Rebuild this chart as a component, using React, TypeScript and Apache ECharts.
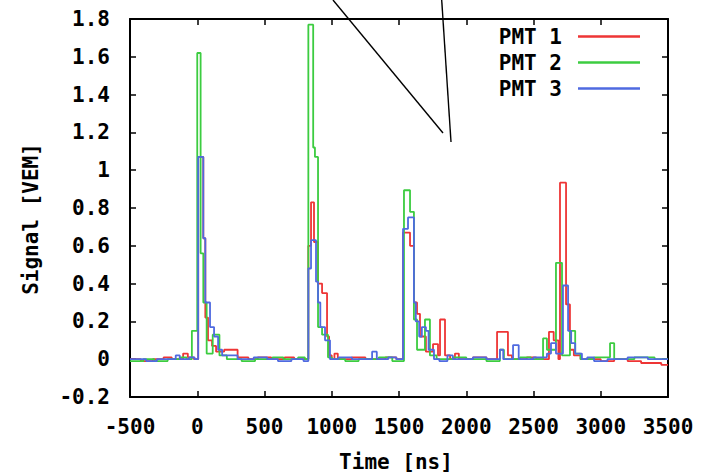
import React, { useEffect, useRef } from "react";
import * as echarts from "echarts";

// Step traces: [time in ns, signal in VEM] at each level change
const pmt1: [number, number][] = [
  [-500, 0.0], [-420, -0.01], [-330, 0.0], [-250, 0.01], [-190, 0.0], [-105, 0.03], [-70, 0.01],
  [-25, 0.0], [7, 1.07], [45, 0.64], [60, 0.22], [80, 0.1], [110, 0.07], [140, 0.04], [200, 0.05],
  [300, 0.01], [380, 0.0], [450, 0.01], [550, 0.0], [650, 0.01], [720, 0.0], [826, 0.6],
  [846, 0.83], [868, 0.62], [898, 0.4], [928, 0.35], [965, 0.12], [980, 0.02], [1000, 0.0],
  [1020, 0.03], [1045, 0.0], [1150, 0.01], [1250, 0.0], [1400, 0.01], [1480, 0.0],
  [1530, 0.67], [1582, 0.6], [1611, 0.3], [1634, 0.24], [1656, 0.12], [1700, 0.04],
  [1753, 0.08], [1790, 0.02], [1805, 0.21], [1842, 0.02], [1880, 0.0], [1916, 0.03],
  [1945, 0.0], [2050, 0.01], [2150, 0.0], [2229, 0.145], [2310, 0.02], [2340, 0.0],
  [2450, 0.01], [2520, 0.0], [2615, 0.145], [2650, 0.1], [2685, 0.0], [2697, 0.934],
  [2742, 0.29], [2771, 0.05], [2800, 0.02], [2850, 0.0], [3000, -0.01], [3100, 0.0],
  [3200, -0.01], [3300, -0.02], [3450, -0.03], [3500, -0.03],
];

const pmt2: [number, number][] = [
  [-500, -0.01], [-400, 0.0], [-320, -0.01], [-220, 0.0], [-130, 0.01], [-80, 0.0],
  [-40, 0.15], [0, 1.62], [25, 0.56], [45, 0.3], [70, 0.03], [115, 0.13], [165, 0.02],
  [220, 0.0], [330, -0.01], [430, 0.0], [560, 0.01], [640, 0.0], [750, 0.01], [800, 0.0],
  [826, 1.77], [862, 1.12], [875, 1.07], [898, 0.17], [928, 0.13], [972, 0.01], [1000, 0.0],
  [1100, -0.01], [1200, 0.0], [1350, 0.01], [1450, -0.01], [1537, 0.894], [1582, 0.78],
  [1611, 0.21], [1634, 0.05], [1693, 0.21], [1730, 0.02], [1780, 0.0], [1900, 0.01],
  [2000, 0.0], [2150, -0.01], [2250, 0.05], [2280, 0.0], [2400, 0.01], [2480, 0.0],
  [2571, 0.11], [2600, 0.05], [2667, 0.51], [2712, 0.02], [2771, 0.15], [2810, 0.03],
  [2850, 0.0], [2950, 0.01], [3069, 0.085], [3100, 0.0], [3250, 0.01], [3400, 0.0],
  [3500, 0.0],
];

const pmt3: [number, number][] = [
  [-500, 0.0], [-380, -0.01], [-300, 0.0], [-160, 0.02], [-130, 0.0], [-60, 0.01],
  [-20, 0.0], [7, 1.07], [45, 0.64], [60, 0.3], [95, 0.17], [125, 0.12], [155, 0.05],
  [185, 0.02], [300, 0.0], [420, 0.01], [520, 0.0], [600, -0.01], [700, 0.0], [790, -0.01],
  [826, 0.48], [846, 0.63], [883, 0.41], [898, 0.3], [915, 0.17], [950, 0.1], [987, 0.0],
  [1050, 0.01], [1150, 0.0], [1300, 0.04], [1335, 0.0], [1420, 0.01], [1480, 0.0],
  [1530, 0.69], [1567, 0.75], [1611, 0.3], [1625, 0.2], [1650, 0.12], [1670, 0.17],
  [1700, 0.15], [1720, 0.05], [1760, 0.0], [1800, -0.01], [1860, 0.02], [1900, 0.0],
  [2050, 0.01], [2150, 0.0], [2250, 0.05], [2275, 0.0], [2348, 0.075], [2390, 0.0],
  [2500, 0.01], [2600, 0.03], [2630, 0.085], [2667, 0.03], [2719, 0.39], [2757, 0.15],
  [2780, 0.085], [2810, 0.03], [2860, 0.0], [2900, 0.01], [2950, -0.01], [3050, 0.0],
  [3200, 0.01], [3350, 0.0], [3500, 0.0],
];

const seriesNames = ["PMT 1", "PMT 2", "PMT 3"];
const seriesColors = ["#ee3535", "#3ccc40", "#4f6ae0"];

const FONT = "DejaVu Sans Mono";
const FONT_SIZE = 21;

export default function App() {
  const ref = useRef<HTMLDivElement>(null);

  useEffect(() => {
    if (!ref.current) return;
    const chart = echarts.init(ref.current, null, { renderer: "svg" });
    const tick = { show: true, inside: true, length: 6, lineStyle: { color: "#000", width: 1.5 } };
    const axisLine = { show: true, onZero: false, lineStyle: { color: "#000", width: 2 } };
    const label = { fontFamily: FONT, fontWeight: "bold" as const, fontSize: FONT_SIZE, color: "#000" };

    chart.setOption({
      animation: false,
      backgroundColor: "#fff",
      grid: { left: 130, right: 37, top: 19, bottom: 79 },
      legend: {
        orient: "vertical",
        right: 60,
        top: 21,
        padding: 5,
        align: "right",
        icon: "rect",
        itemWidth: 62,
        itemHeight: 2.5,
        itemGap: 5,
        data: seriesNames,
        textStyle: { ...label, lineHeight: 21, padding: [0, 11, 0, 0] },
      },
      xAxis: [
        {
          type: "value",
          min: -500,
          max: 3500,
          interval: 500,
          axisLine,
          axisTick: tick,
          splitLine: { show: false },
          axisLabel: { ...label, margin: 19, formatter: (v: number) => String(v) },
        },
        {
          type: "value",
          position: "top",
          min: -500,
          max: 3500,
          interval: 500,
          axisLine,
          axisTick: tick,
          splitLine: { show: false },
          axisLabel: { show: false },
        },
      ],
      yAxis: [
        {
          type: "value",
          min: -0.2,
          max: 1.8,
          interval: 0.2,
          axisLine,
          axisTick: tick,
          splitLine: { show: false },
          axisLabel: {
            ...label,
            margin: 20,
            formatter: (v: number) => String(Math.round(v * 10) / 10),
          },
        },
        {
          type: "value",
          position: "right",
          min: -0.2,
          max: 1.8,
          interval: 0.2,
          axisLine,
          axisTick: tick,
          splitLine: { show: false },
          axisLabel: { show: false },
        },
      ],
      series: [pmt1, pmt2, pmt3].map((d, i) => ({
        name: seriesNames[i],
        type: "line",
        step: "end",
        data: d,
        symbol: "none",
        color: seriesColors[i],
        lineStyle: { color: seriesColors[i], width: 1.8 },
        xAxisIndex: 0,
        yAxisIndex: 0,
      })),
      graphic: [
        {
          type: "text",
          x: 31,
          y: 219,
          rotation: Math.PI / 2,
          style: {
            text: "Signal [VEM]",
            font: `bold ${FONT_SIZE}px "${FONT}"`,
            fill: "#000",
            align: "center",
            verticalAlign: "middle",
          },
        },
        {
          type: "text",
          x: 396,
          y: 462,
          style: {
            text: "Time [ns]",
            font: `bold ${FONT_SIZE}px "${FONT}"`,
            fill: "#000",
            align: "center",
            verticalAlign: "middle",
          },
        },
        {
          type: "line",
          shape: { x1: 333, y1: 0, x2: 443, y2: 133 },
          style: { stroke: "#000", lineWidth: 1.4 },
        },
        {
          type: "line",
          shape: { x1: 441.7, y1: 0, x2: 451, y2: 142 },
          style: { stroke: "#000", lineWidth: 1.4 },
        },
      ],
    });

    return () => chart.dispose();
  }, []);

  return (
    <div
      ref={ref}
      style={{ position: "absolute", left: 0, top: 0, width: 705, height: 476 }}
    />
  );
}
